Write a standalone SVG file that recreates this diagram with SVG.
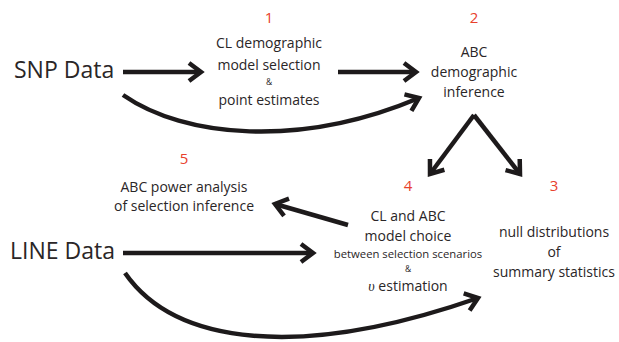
<svg xmlns="http://www.w3.org/2000/svg" width="619" height="342" viewBox="0 0 619 342">
<defs>
<marker id="ah" markerUnits="userSpaceOnUse" viewBox="-16 -12 20 24" refX="0" refY="0" markerWidth="20" markerHeight="24" orient="auto" overflow="visible">
<path d="M-12,-9 L0,0 L-12,9" fill="none" stroke="#1d1a1b" stroke-width="4.5" stroke-linecap="butt" stroke-linejoin="miter"/>
</marker>
<style>
text{font-family:"Open Sans","Liberation Sans",sans-serif;fill:#2a2627;text-anchor:middle;}
.big{font-size:23px;text-anchor:start;}
.lbl{font-size:14px;}
.sm{font-size:11.3px;}
.amp{font-size:8.5px;}
.num{font-size:15px;fill:#e8412c;}
.conn path{fill:none;stroke:#1d1a1b;stroke-width:4.5;marker-end:url(#ah);}
</style>
</defs>
<rect width="619" height="342" fill="#ffffff"/>
<g class="conn" id="connectors">
<path d="M123,72 L201,72"/>
<path d="M338,72 L416,72"/>
<path d="M123,95 C185,138 300,148 419,98"/>
<path d="M474,115 L430,174"/>
<path d="M474,115 L520,174"/>
<path d="M348,225 L275,204"/>
<path d="M123,253 L313,253"/>
<path d="M125,273 C175,345 300,360 478,298"/>
</g>
<g id="snp"><text class="big" x="14" y="78">SNP Data</text></g>
<g id="line"><text class="big" x="10" y="259">LINE Data</text></g>
<g id="n1">
<text class="num" x="269" y="23">1</text>
<text class="lbl" x="269" y="48">CL demographic</text>
<text class="lbl" x="269" y="70">model selection</text>
<text class="amp" x="269" y="85">&amp;</text>
<text class="lbl" x="269" y="105">point estimates</text>
</g>
<g id="n2">
<text class="num" x="474" y="23">2</text>
<text class="lbl" x="474" y="57">ABC</text>
<text class="lbl" x="474" y="77">demographic</text>
<text class="lbl" x="474" y="97">inference</text>
</g>
<g id="n3">
<text class="num" x="554" y="191">3</text>
<text class="lbl" x="554" y="237">null distributions</text>
<text class="lbl" x="554" y="257">of</text>
<text class="lbl" x="554" y="277">summary statistics</text>
</g>
<g id="n4">
<text class="num" x="408" y="191">4</text>
<text class="lbl" x="408" y="221">CL and ABC</text>
<text class="lbl" x="408" y="241">model choice</text>
<text class="sm" x="408" y="258">between selection scenarios</text>
<text class="amp" x="408" y="272">&amp;</text>
<text class="lbl" x="408" y="291"><tspan font-family="Liberation Serif,serif" font-style="italic">υ</tspan> estimation</text>
</g>
<g id="n5">
<text class="num" x="184" y="164">5</text>
<text class="lbl" x="184" y="192">ABC power analysis</text>
<text class="lbl" x="184" y="211">of selection inference</text>
</g>
</svg>
